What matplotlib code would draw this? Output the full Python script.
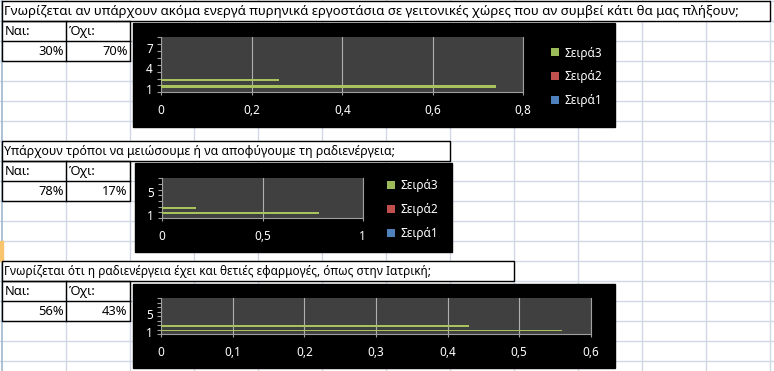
import numpy as np
import matplotlib
matplotlib.use('Agg')
import matplotlib.pyplot as plt
from matplotlib.patches import Rectangle, Patch

plt.rcParams['font.family'] = ['Noto Sans', 'DejaVu Sans']

W, H = 774, 371

# ---- data ----
questions = [
    'Γνωρίζεται αν υπάρχουν ακόμα ενεργά πυρηνικά εργοστάσια σε γειτονικές χώρες που αν συμβεί κάτι θα μας πλήξουν;',
    'Υπάρχουν τρόποι να μειώσουμε ή να αποφύγουμε τη ραδιενέργεια;',
    'Γνωρίζεται ότι η ραδιενέργεια έχει και θετιές εφαρμογές, όπως στην Ιατρική;',
]
yes_text = ['30%', '78%', '56%']
no_text = ['70%', '17%', '43%']

seira3_cats = [1, 2]
seira3 = [[0.74, 0.26], [0.78, 0.17], [0.56, 0.43]]
n_cats = [8, 7, 8]
ylabels = [[1, 4, 7], [1, 5], [1, 5]]
xticks = [[0, 0.2, 0.4, 0.6, 0.8], [0, 0.5, 1], [0, 0.1, 0.2, 0.3, 0.4, 0.5, 0.6]]
xticklabels = [['0', '0,2', '0,4', '0,6', '0,8'], ['0', '0,5', '1'],
               ['0', '0,1', '0,2', '0,3', '0,4', '0,5', '0,6']]
series_names = ['Σειρά1', 'Σειρά2', 'Σειρά3']
series_colors = ['#4f81bd', '#c0504d', '#9bbb59']

# ---- layout in pixels ----
block_top = [1, 141, 261]
title_right = [770, 450, 514]
title_size = [9.5, 8.9, 8.5]
chart_box = [(133, 22.5, 615, 127), (135, 163, 452, 252), (133, 284, 615, 368)]
plot_box = [(161.3, 37.3, 523.3, 92.3), (162.3, 178.3, 362.7, 218), (161.3, 298.3, 590.7, 334)]
legend_at = [(551, 46.5), (387, 179.5), None]


def fig_rect(x0, y0, x1, y1):
    return [x0 / W, 1 - y1 / H, (x1 - x0) / W, (y1 - y0) / H]


fig = plt.figure(figsize=(W / 100, H / 100), dpi=100)
bg = fig.add_axes([0, 0, 1, 1])
bg.set_xlim(0, W)
bg.set_ylim(H, 0)
bg.axis('off')

# sheet grid
grid_c = '#d0d7e5'
for x in np.arange(66, W, 64):
    bg.plot([x, x], [0, H], color=grid_c, lw=1, zorder=1)
for y in np.arange(1, H, 20):
    bg.plot([0, W], [y, y], color=grid_c, lw=1, zorder=1)
bg.plot([2, 2], [0, H], color='#9eb6ce', lw=1.2, zorder=2)
bg.add_patch(Rectangle((0, 241), 2.5, 20, color='#f9c46e', zorder=2))

for i in range(3):
    top = block_top[i]
    # question row
    bg.add_patch(Rectangle((2, top), title_right[i] - 2, 20, facecolor='white',
                           edgecolor='black', lw=1, zorder=3))
    bg.text(4, top + 10.5, questions[i], ha='left', va='center', fontsize=title_size[i], zorder=4)

    # small table
    r1, r2, r3 = top + 20, top + 40, top + 60
    bg.add_patch(Rectangle((2, r1), 128, 40, facecolor='none', edgecolor='black', lw=1, zorder=3))
    bg.plot([66, 66], [r1, r3], color='black', lw=1, zorder=3)
    bg.plot([2, 130], [r2, r2], color='black', lw=1, zorder=3)
    bg.text(5, r1 + 10.5, 'Ναι:', ha='left', va='center', fontsize=9.3, zorder=4)
    bg.text(69, r1 + 10.5, 'Όχι:', ha='left', va='center', fontsize=9.3, zorder=4)
    bg.text(63.5, r2 + 10.5, yes_text[i], ha='right', va='center', fontsize=9.3, zorder=4)
    bg.text(127.5, r2 + 10.5, no_text[i], ha='right', va='center', fontsize=9.3, zorder=4)

    # chart background
    cx0, cy0, cx1, cy1 = chart_box[i]
    bg.add_patch(Rectangle((cx0, cy0), cx1 - cx0, cy1 - cy0, color='black', zorder=5))

    # plot area
    ax = fig.add_axes(fig_rect(*plot_box[i]))
    ax.set_facecolor('#404040')
    n = n_cats[i]
    band = 1 / 3
    ax.barh(np.array(seira3_cats) + band, seira3[i], height=band,
            color='#a8c25e', lw=0, zorder=3)
    ax.set_xlim(xticks[i][0], xticks[i][-1])
    ax.set_ylim(0.5, n + 0.5)
    ax.set_xticks(xticks[i], xticklabels[i])
    ax.set_yticks(ylabels[i], [str(v) for v in ylabels[i]])
    ax.set_yticks(np.arange(0.5, n + 1, 1), minor=True)
    ax.tick_params(axis='y', which='major', length=0, pad=6, labelcolor='white', labelsize=8.5)
    ax.tick_params(axis='y', which='minor', length=2.9, width=0.8, color='#a0a0a0')
    ax.tick_params(axis='x', length=2.2, width=0.8, color='#a0a0a0', pad=6.5,
                   labelcolor='white', labelsize=8.5)
    ax.grid(axis='x', color='#b0b0b0', lw=0.8)
    ax.set_axisbelow(True)
    ax.spines['top'].set_visible(False)
    for s in ['left', 'bottom', 'right']:
        ax.spines[s].set_color('#a0a0a0')
        ax.spines[s].set_linewidth(0.8)

    if legend_at[i] is not None:
        lx, ly = legend_at[i]
        handles = [Patch(facecolor=c, edgecolor='none') for c in series_colors][::-1]
        ax.legend(handles, series_names[::-1], loc='upper left',
                  bbox_to_anchor=(lx / W, 1 - ly / H), bbox_transform=fig.transFigure,
                  frameon=False, fontsize=8.5, labelcolor='white',
                  handlelength=0.65, handleheight=0.65, handletextpad=0.5,
                  labelspacing=0.9, borderpad=0, borderaxespad=0)

fig.savefig('out.png', dpi=100)
